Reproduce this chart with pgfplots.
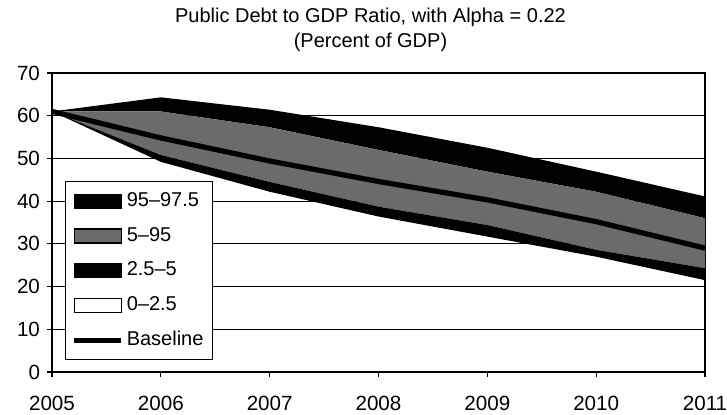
\documentclass[border=0pt]{standalone}
\usepackage{fontspec}
\setmainfont{Liberation Sans}
\usepackage{pgfplots}
\pgfplotsset{compat=1.18}
\usepackage{pgfplotstable}
\usepgfplotslibrary{fillbetween}

% Fan chart percentiles of the debt ratio (percent of GDP)
\pgfplotstableread{
year p025 p05  base p95  p975
2005 61.0 61.0 61.0 61.0 61.0
2006 49.2 50.8 54.8 61.0 64.3
2007 42.2 44.5 49.4 57.3 61.4
2008 36.4 38.7 44.6 52.0 57.3
2009 31.7 34.4 40.3 46.9 52.5
2010 27.0 28.6 35.2 42.2 46.9
2011 21.5 24.3 29.0 36.0 41.1
}\fantable

\pgfplotsset{
  fanband key/.style={legend image code/.code={
      \draw[##1, draw=black, line width=0.6pt] (0pt,-3.5pt) rectangle (23.5pt,3.5pt);}},
  fanline key/.style={legend image code/.code={
      \draw[##1] (0pt,0pt) -- (23.5pt,0pt);}},
}

\begin{document}
\begin{tikzpicture}
\begin{axis}[
  scale only axis,
  width=326.5pt, height=149.5pt,
  xmin=2005, xmax=2011, ymin=0, ymax=70,
  xtick={2005,2006,...,2011}, ytick={0,10,...,70},
  xtick pos=bottom, ytick pos=left,
  ymajorgrids,
  major grid style={black, line width=0.5pt},
  axis line style={black, line width=0.6pt},
  tick align=outside,
  major tick length=2.5pt,
  tick style={black, line width=0.6pt},
  /pgf/number format/assume math mode=true,
  /pgf/number format/1000 sep={},
  ticklabel style={font=\fontsize{10.3}{12}\selectfont},
  x tick label style={yshift=-6pt},
  title={Public Debt to GDP Ratio, with Alpha = 0.22\\(Percent of GDP)},
  title style={align=center, at={(0.5,1)}, anchor=south, yshift=1pt, xshift=-4pt,
    font=\fontsize{10}{12.5}\selectfont},
  legend style={at={(0.02,0.04)}, anchor=south west, draw=black, line width=0.5pt,
    font=\fontsize{10}{12}\selectfont, inner xsep=3pt, inner ysep=4pt, row sep=6.2pt,
    nodes={inner xsep=1.5pt, inner ysep=1pt, text height=7.2pt, text depth=2pt}},
  legend cell align=left,
]
\addplot[draw=none, name path=p025, forget plot] table[x=year, y=p025] {\fantable};
\addplot[draw=none, name path=p05,  forget plot] table[x=year, y=p05]  {\fantable};
\addplot[draw=none, name path=p95,  forget plot] table[x=year, y=p95]  {\fantable};
\addplot[draw=none, name path=p975, forget plot] table[x=year, y=p975] {\fantable};

\addplot[fill=black, draw=none, fanband key] fill between[of=p95 and p975];
\addlegendentry{95--97.5}
\addplot[fill=black!58, draw=none, fanband key] fill between[of=p05 and p95];
\addlegendentry{5--95}
\addplot[fill=black, draw=none, fanband key] fill between[of=p025 and p05];
\addlegendentry{2.5--5}
\addlegendimage{fill=white, fanband key}
\addlegendentry{0--2.5}
\addplot[black, line width=2.6pt, fanline key] table[x=year, y=base] {\fantable};
\addlegendentry{Baseline}
\end{axis}
\pgfresetboundingbox
\useasboundingbox (-26pt,-21.5pt) rectangle (337.5pt,186pt);
\end{tikzpicture}
\end{document}
